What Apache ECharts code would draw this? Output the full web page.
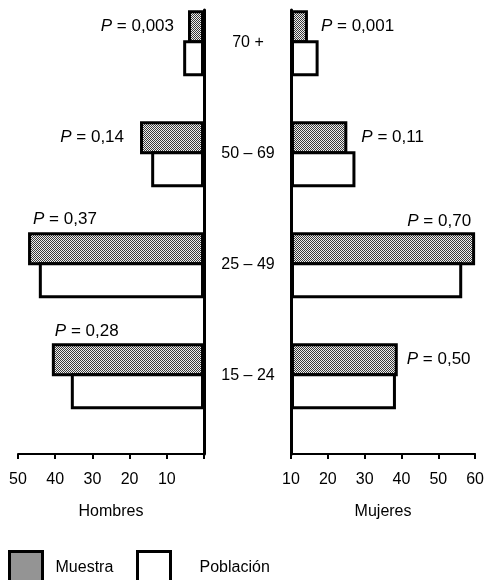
<!DOCTYPE html>
<html><head><meta charset="utf-8">
<script src="https://cdn.jsdelivr.net/npm/echarts@6/dist/echarts.min.js"></script>
<style>html,body{margin:0;padding:0;background:#fff}#c{width:487px;height:580px}</style>
</head><body><div id="c"></div>
<script>
// ---- data ----
const categories = ['15 – 24', '25 – 49', '50 – 69', '70 +'];
const hombresMuestra = [40.9, 47.3, 17.2, 4.3];
const hombresPoblacion = [35.8, 44.4, 14.2, 5.6];
const mujeresMuestra = [39.0, 60.0, 25.3, 14.6];
const mujeresPoblacion = [38.5, 56.5, 27.5, 17.5];
const hombresP = ['0,28', '0,37', '0,14', '0,003'];
const mujeresP = ['0,50', '0,70', '0,11', '0,001'];
const hombresTickLabels = [50, 40, 30, 20, 10];
const mujeresTickLabels = [10, 20, 30, 40, 50, 60];
const legendNames = ['Muestra', 'Población'];
const axisNames = ['Hombres', 'Mujeres'];

// ---- styles ----
const FONT = '"Liberation Sans", Arial, sans-serif';
const leftLabelPlace = [
  { position: [3, -20] },
  { position: [5, -21] },
  { position: 'left', distance: 16 },
  { position: 'left', distance: 14 }
];
const rightLabelPlace = [
  { position: 'right', distance: 9 },
  { position: 'insideTopRight', distance: 4, offset: [0, -23] },
  { position: 'right', distance: 14 },
  { position: 'right', distance: 13 }
];

const pc = document.createElement('canvas');
pc.width = 4; pc.height = 4;
const g = pc.getContext('2d');
g.fillStyle = '#eeeeee'; g.fillRect(0, 0, 4, 4);
g.fillStyle = '#3a3a3a';
for (let y = 0; y < 4; y++) for (let x = 0; x < 4; x++) if ((x + y) % 2 === 0) g.fillRect(x, y, 1, 1);
const pattern = { image: pc, repeat: 'repeat' };

function labelFor(p, place) {
  return Object.assign({
    show: true,
    formatter: '{i|P} = ' + p,
    color: '#000', fontFamily: FONT, fontSize: 17, lineHeight: 17,
    rich: { i: { fontStyle: 'italic', fontFamily: FONT, fontSize: 17, color: '#000' } }
  }, place);
}

const BORDER = 3;
const GAP = '-9.09%';
function sideSeries(idx, muestra, poblacion, pvals, place) {
  return [
    {
      type: 'bar', name: legendNames[0], xAxisIndex: idx, yAxisIndex: idx,
      barWidth: 33, barGap: GAP, clip: false,
      itemStyle: { color: pattern, borderColor: '#000', borderWidth: BORDER },
      data: muestra.map((v, i) => ({ value: v, label: labelFor(pvals[i], place[i]) }))
    },
    {
      type: 'bar', name: legendNames[1], xAxisIndex: idx, yAxisIndex: idx,
      barWidth: 36, barGap: GAP, clip: false,
      itemStyle: { color: '#fff', borderColor: '#000', borderWidth: BORDER },
      data: poblacion
    },
    { type: 'bar', name: 'spacer', xAxisIndex: idx, yAxisIndex: idx, barWidth: 48, barGap: GAP, data: [], silent: true }
  ];
}

const axisLine = { show: true, lineStyle: { color: '#000', width: 2 } };
const tick = { show: true, length: 5, lineStyle: { color: '#000', width: 2 } };

const chart = echarts.init(document.getElementById('c'), null, { renderer: 'canvas' });
chart.setOption({
  animation: false,
  backgroundColor: '#fff',
  textStyle: { fontFamily: FONT },
  grid: [
    { left: 18, top: 10, width: 186, height: 444 },
    { left: 291, top: 10, width: 185, height: 444 }
  ],
  xAxis: [
    {
      gridIndex: 0, type: 'value', inverse: true, min: 0, max: 50, interval: 10,
      axisLine, axisTick: tick, splitLine: { show: false },
      axisLabel: { margin: 18, color: '#000', fontSize: 16, fontFamily: FONT,
        formatter: v => hombresTickLabels.indexOf(v) >= 0 ? String(v) : '' },
      name: axisNames[0], nameLocation: 'middle', nameGap: 50,
      nameTextStyle: { color: '#000', fontSize: 16, fontFamily: FONT }
    },
    {
      gridIndex: 1, type: 'value', min: 10, max: 60, interval: 10, startValue: 10,
      axisLine, axisTick: tick, splitLine: { show: false },
      axisLabel: { margin: 18, color: '#000', fontSize: 16, fontFamily: FONT,
        formatter: v => mujeresTickLabels.indexOf(v) >= 0 ? String(v) : '' },
      name: axisNames[1], nameLocation: 'middle', nameGap: 50,
      nameTextStyle: { color: '#000', fontSize: 16, fontFamily: FONT }
    }
  ],
  yAxis: [
    {
      gridIndex: 0, type: 'category', data: categories, position: 'right',
      axisLine: { show: true, lineStyle: { color: '#000', width: 3 } },
      axisTick: { show: false }, axisLabel: { show: false }
    },
    {
      gridIndex: 1, type: 'category', data: categories, position: 'left',
      axisLine: { show: true, lineStyle: { color: '#000', width: 3 } },
      axisTick: { show: false },
      axisLabel: { show: true, margin: 43, align: 'center', verticalAlign: 'bottom', lineHeight: 46,
        color: '#000', fontSize: 16, fontFamily: FONT }
    }
  ],
  legend: [
    {
      data: [legendNames[0]], left: 8, top: 550, padding: 0, itemWidth: 33, itemHeight: 32,
      selectedMode: false, icon: 'rect',
      itemStyle: { borderWidth: 3, borderColor: '#000' },
      textStyle: { color: '#000', fontSize: 16, fontFamily: FONT, padding: [0, 0, 0, 8] }
    },
    {
      data: [legendNames[1]], left: 136, top: 550, padding: 0, itemWidth: 33, itemHeight: 32,
      selectedMode: false, icon: 'rect',
      itemStyle: { borderWidth: 3, borderColor: '#000' },
      textStyle: { color: '#000', fontSize: 16, fontFamily: FONT, padding: [0, 0, 0, 24] }
    }
  ],
  series: [].concat(
    sideSeries(0, hombresMuestra, hombresPoblacion, hombresP, leftLabelPlace),
    sideSeries(1, mujeresMuestra, mujeresPoblacion, mujeresP, rightLabelPlace)
  )
});
</script></body></html>
